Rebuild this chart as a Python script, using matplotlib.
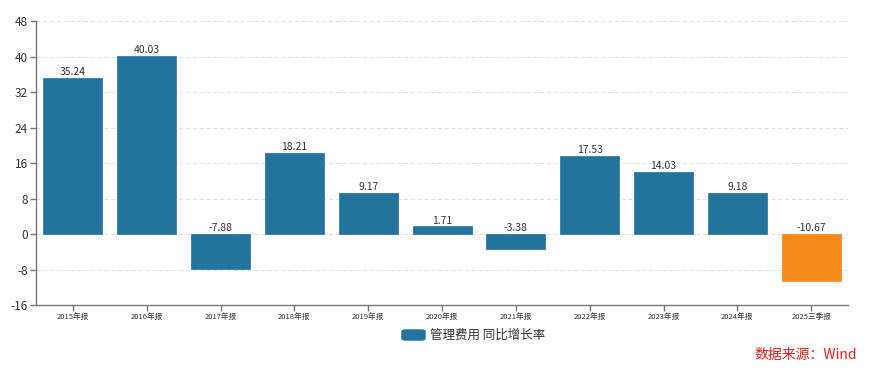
import matplotlib
matplotlib.use("Agg")
import matplotlib.pyplot as plt
from matplotlib.patches import FancyBboxPatch

plt.rcParams['font.family'] = ['Noto Sans CJK SC', 'DejaVu Sans']

categories = ["2015年报", "2016年报", "2017年报", "2018年报", "2019年报", "2020年报",
              "2021年报", "2022年报", "2023年报", "2024年报", "2025三季报"]
values = [35.24, 40.03, -7.88, 18.21, 9.17, 1.71, -3.38, 17.53, 14.03, 9.18, -10.67]
yticks = [-16, -8, 0, 8, 16, 24, 32, 40, 48]
series_name = "管理费用 同比增长率"

blue = "#22739E"
orange = "#F5891A"
colors = [blue] * (len(values) - 1) + [orange]

fig = plt.figure(figsize=(8.69, 3.73), dpi=100)
ax = fig.add_axes([0.0414, 0.1823, 0.9346, 0.7614])

x = list(range(len(categories)))
ax.bar(x, values, width=0.8, color=colors, edgecolor=[c for c in colors], linewidth=0.5, zorder=3)

for xi, v in zip(x, values):
    y = v if v > 0 else 0
    ax.text(xi, y + 0.2, f"{v:.2f}", ha="center", va="bottom", fontsize=7.5, color="#333333", zorder=4)

ax.set_xlim(-0.5, len(categories) - 0.5)
ax.set_ylim(-16, 48)
ax.set_yticks(yticks)
ax.set_yticklabels([str(t) for t in yticks], fontsize=8.5, color="#333333")
ax.set_xticks(x)
ax.set_xticklabels(categories, fontsize=5.5, color="#333333")

ax.yaxis.grid(True, linestyle=(0, (4, 3)), color="#dddddd", linewidth=0.7, zorder=0)
ax.set_axisbelow(True)
for s in ["top", "right"]:
    ax.spines[s].set_visible(False)
for s in ["left", "bottom"]:
    ax.spines[s].set_color("#777777")
    ax.spines[s].set_linewidth(1.0)
ax.tick_params(axis="both", direction="out", color="#777777", length=4, width=1, pad=2)

# legend
lx, ly = 402 / 869, 1 - 340 / 373
rect = FancyBboxPatch((lx, ly), 23 / 869, 10 / 373,
                      boxstyle="round,pad=0,rounding_size=0.004",
                      transform=fig.transFigure, color=blue, clip_on=False)
fig.patches.append(rect)
fig.text(430 / 869, 1 - 335 / 373, series_name, fontsize=9, color="#333333",
         ha="left", va="center")

fig.text(857 / 869, 1 - 355 / 373, "数据来源：Wind", fontsize=10, color="#E02020",
         ha="right", va="center")

fig.savefig("out.png", dpi=100)
